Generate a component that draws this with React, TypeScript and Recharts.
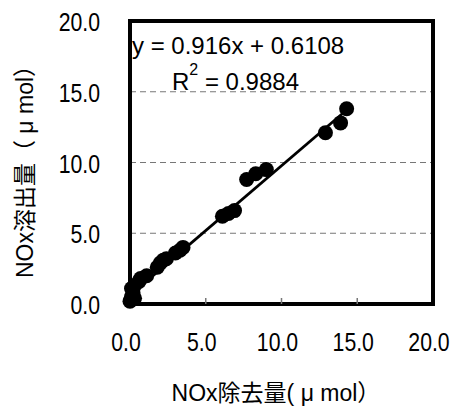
import React from 'react';
import {
  ComposedChart,
  Scatter,
  XAxis,
  YAxis,
  CartesianGrid,
  ReferenceArea,
  ReferenceLine,
  Customized,
} from 'recharts';

// NOx removed (µmol) – x values
const removedNOx = [
  0.0, 0.1, 0.1, 0.2, 0.3, 0.3, 0.6, 0.7, 1.1, 1.8, 2.0, 2.2, 2.4, 3.0, 3.3, 3.5,
  6.1, 6.5, 6.9, 7.7, 8.3, 9.0, 12.9, 13.9, 14.3,
];
// NOx eluted (µmol) – y values
const elutedNOx = [
  0.2, 0.5, 1.1, 0.8, 0.4, 1.3, 1.6, 1.8, 2.0, 2.6, 2.9, 3.1, 3.2, 3.6, 3.8, 4.0,
  6.2, 6.4, 6.6, 8.8, 9.2, 9.5, 12.1, 12.8, 13.8,
];
const xTicks = [0, 5, 10, 15, 20];
const yTicks = [0, 5, 10, 15, 20];
const trendSlope = 0.916;
const trendIntercept = 0.6108;
const trendStartX = 0.0;
const trendEndX = 14.3;
const equationText = 'y = 0.916x + 0.6108';
const r2Value = '0.9884';
const xAxisTitle = 'NOx除去量( μ mol）';
const yAxisTitle = 'NOx溶出量（ μ mol）';

const data = removedNOx.map((x, i) => ({ x, y: elutedNOx[i] }));

const FONT = "'Liberation Sans', Arial, 'Noto Sans CJK JP', sans-serif";
const TICK_SIZE = 25;
const TICK_SCALE = 0.85;

const XTick = (props: any) => {
  const { x, y, payload } = props;
  const v = payload.value as number;
  return (
    <g>
      {v > 0 && v < 20 && (
        <line x1={x} x2={x} y1={y} y2={y - 6} stroke="#777" strokeWidth={1.5} />
      )}
      <g transform={`translate(${x - 4},${y + 47}) scale(${TICK_SCALE},1)`}>
        <text textAnchor="middle" fontSize={TICK_SIZE} fontFamily={FONT} fill="#000">
          {v.toFixed(1)}
        </text>
      </g>
    </g>
  );
};

const YTick = (props: any) => {
  const { x, y, payload } = props;
  const v = payload.value as number;
  return (
    <g transform={`translate(${x - 30},${y + 1}) scale(${TICK_SCALE},1)`}>
      <text textAnchor="end" dy="0.36em" fontSize={TICK_SIZE} fontFamily={FONT} fill="#000">
        {v.toFixed(1)}
      </text>
    </g>
  );
};

const Texts = () => (
  <g fontFamily={FONT} fill="#000">
    <text x={132} y={54} fontSize={24}>
      {equationText}
    </text>
    <text x={172} y={90} fontSize={24}>
      R
      <tspan fontSize={16} dy={-15}>
        2
      </tspan>
      <tspan dy={15}>{' = ' + r2Value}</tspan>
    </text>
    <text x={276} y={401} fontSize={23} textAnchor="middle">
      {xAxisTitle}
    </text>
    <text
      transform="translate(33,166) rotate(-90)"
      fontSize={23}
      textAnchor="middle"
    >
      {yAxisTitle}
    </text>
  </g>
);

const renderPoint = (props: any) => (
  <circle cx={props.cx} cy={props.cy} r={7.5} fill="#000" />
);

export default function App() {
  return (
    <div style={{ position: 'absolute', left: 0, top: 0, background: '#fff' }}>
      <ComposedChart
        width={454}
        height={407}
        data={data}
        margin={{ top: 21, right: 21, left: 30, bottom: 23 }}
      >
        <CartesianGrid
          horizontal
          vertical={false}
          stroke="#777"
          strokeWidth={1}
          strokeDasharray="6 4"
        />
        <XAxis
          type="number"
          dataKey="x"
          domain={[0, 20]}
          ticks={xTicks}
          height={80}
          axisLine={false}
          tickLine={false}
          tickSize={0}
          tickMargin={0}
          tick={<XTick />}
          interval={0}
        />
        <YAxis
          type="number"
          dataKey="y"
          domain={[0, 20]}
          ticks={yTicks}
          width={100}
          axisLine={false}
          tickLine={false}
          tickSize={0}
          tickMargin={0}
          tick={<YTick />}
          interval={0}
        />
        <ReferenceArea
          x1={0}
          x2={20}
          y1={0}
          y2={20}
          fill="none"
          fillOpacity={0}
          stroke="#000"
          strokeWidth={4}
        />
        <ReferenceLine
          segment={[
            { x: trendStartX, y: trendSlope * trendStartX + trendIntercept },
            { x: trendEndX, y: trendSlope * trendEndX + trendIntercept },
          ]}
          stroke="#000"
          strokeWidth={2.8}
        />
        <Scatter
          data={data}
          dataKey="y"
          fill="#000"
          shape={renderPoint}
          isAnimationActive={false}
        />
        <Customized component={Texts} />
      </ComposedChart>
    </div>
  );
}
